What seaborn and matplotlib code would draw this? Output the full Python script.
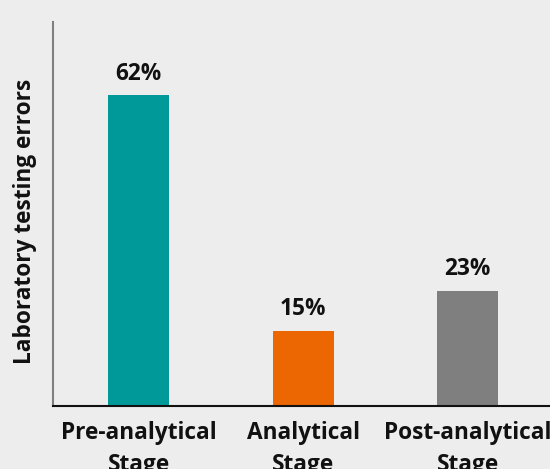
import matplotlib.pyplot as plt
import pandas as pd
import seaborn as sns

stages = ["Pre-analytical\nStage", "Analytical\nStage", "Post-analytical\nStage"]
errors = [62, 15, 23]
colors = ["#009999", "#ec6602", "#7f7f7f"]

sns.set_theme(style="white")
plt.rcParams["font.family"] = ["Open Sans", "DejaVu Sans"]

df = pd.DataFrame({"stage": stages, "errors": errors})

fig = plt.figure(figsize=(5.5, 4.69), dpi=100, facecolor="#ededed")
ax = fig.add_axes([53 / 550, (469 - 406) / 469, 497 / 550, 384 / 469])
ax.set_facecolor("#ededed")

sns.barplot(data=df, x="stage", y="errors", hue="stage", palette=colors,
            width=0.37, legend=False, saturation=1, linewidth=0, ax=ax)

for i, v in enumerate(errors):
    ax.text(i, v + 1.9, f"{v}%", ha="center", va="bottom",
            fontsize=16.3, fontweight="bold", color="#111111")

ax.set_xlim(-0.52, 2.5)
ax.set_ylim(0, 76.6)
ax.set_yticks([])
ax.set_xlabel("")
ax.set_ylabel("Laboratory testing errors", fontsize=16.3, fontweight="bold",
              color="#111111")
ax.yaxis.set_label_coords(-0.032, 0.482)
ax.tick_params(axis="x", length=0, pad=11, labelcolor="#111111")
for lbl in ax.get_xticklabels():
    lbl.set_fontweight("bold")
    lbl.set_fontsize(16.3)
    lbl.set_linespacing(1.45)

for side in ["top", "right"]:
    ax.spines[side].set_visible(False)
ax.spines["left"].set_color("#7f7f7f")
ax.spines["left"].set_linewidth(1.5)
ax.spines["bottom"].set_color("#111111")
ax.spines["bottom"].set_linewidth(1.5)

fig.savefig("out.png", dpi=100, facecolor=fig.get_facecolor())
